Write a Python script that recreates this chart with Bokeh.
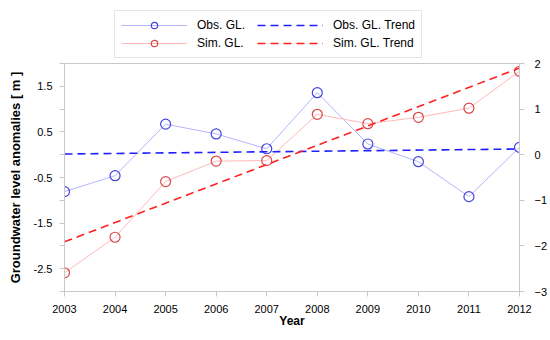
from bokeh.plotting import figure
from bokeh.layouts import column
from bokeh.models import (Range1d, LinearAxis, FixedTicker, Legend, LegendItem)
from bokeh.embed import file_html
from bokeh.resources import INLINE

years = [2003, 2004, 2005, 2006, 2007, 2008, 2009, 2010, 2011, 2012]
obs_gl = [-0.81, -0.46, 0.67, 0.455, 0.13, 1.36, 0.235, -0.154, -0.92, 0.16]
sim_gl = [-2.59, -1.81, -0.59, -0.14, -0.13, 0.886, 0.68, 0.82, 1.02, 1.83]
trend_years = [2003, 2012]
obs_trend = [0.015, 0.125]
sim_trend = [-1.91, 1.90]

left_ticks = [-3, -2.5, -2, -1.5, -1, -0.5, 0, 0.5, 1, 1.5, 2]
left_labels = {-3: "", -2.5: "-2.5", -2: "", -1.5: "-1.5", -1: "", -0.5: "-0.5",
               0: "", 0.5: "0.5", 1: "", 1.5: "1.5", 2: ""}
right_ticks = [-3, -2, -1, 0, 1, 2]

FONT = "Liberation Sans"
AX = "#c8c8c8"
OBS_LINE, OBS_MK, OBS_TR = "#b4b4ff", "#4444dd", "#2020ff"
SIM_LINE, SIM_MK, SIM_TR = "#ffb8b8", "#d84848", "#ff2020"
DASH = "8 5"

# ---------------- main plot ----------------
p = figure(width=550, height=282, output_backend="svg", toolbar_location=None,
           x_range=Range1d(2003, 2012), y_range=Range1d(-3, 2),
           min_border_left=64, min_border_right=31, min_border_top=5,
           min_border_bottom=49)
p.extra_y_ranges = {"right": Range1d(-3, 2)}
p.xgrid.visible = False
p.ygrid.visible = False
p.outline_line_color = AX
p.background_fill_color = "white"
p.border_fill_color = "white"

p.line(years, obs_gl, line_color=OBS_LINE, line_width=1)
p.scatter(years, obs_gl, size=10, fill_color=None, line_color=OBS_MK, line_width=1.2)
p.line(years, sim_gl, line_color=SIM_LINE, line_width=1)
p.scatter(years, sim_gl, size=10, fill_color=None, line_color=SIM_MK, line_width=1.2)
p.line(trend_years, obs_trend, line_color=OBS_TR, line_width=1.6, line_dash=DASH)
p.line(trend_years, sim_trend, line_color=SIM_TR, line_width=1.6, line_dash=DASH)

xa = p.xaxis[0]
xa.ticker = FixedTicker(ticks=years)
xa.axis_label = "Year"
ya = p.yaxis[0]
ya.ticker = FixedTicker(ticks=left_ticks)
ya.major_label_overrides = left_labels
ya.axis_label = "Groundwater level anomalies [ m ]"

ra = LinearAxis(y_range_name="right", ticker=FixedTicker(ticks=right_ticks))
p.add_layout(ra, "right")

for ax in [xa, ya, ra]:
    ax.axis_line_color = AX
    ax.major_tick_line_color = AX
    ax.minor_tick_line_color = None
    ax.major_tick_out = 5
    ax.major_tick_in = 0
    ax.major_label_text_font = FONT
    ax.major_label_text_font_size = "11px"
    ax.major_label_text_color = "black"
    ax.axis_label_text_font = FONT
    ax.axis_label_text_font_size = "13px"
    ax.axis_label_text_font_style = "bold"
    ax.axis_label_text_color = "black"
xa.axis_label_text_font_size = "12px"
xa.major_label_standoff = 8
xa.axis_label_standoff = -2
ya.major_label_standoff = 7
ya.axis_label_standoff = 8
ra.major_label_standoff = 10

# ---------------- legend strip ----------------
lg = figure(width=550, height=58, output_backend="svg", toolbar_location=None,
            x_range=Range1d(0, 1), y_range=Range1d(0, 1),
            x_axis_location=None, y_axis_location=None,
            min_border=0)
lg.xgrid.visible = False
lg.ygrid.visible = False
lg.outline_line_color = None
lg.border_fill_color = "white"

# legend-only proxies, kept outside the visible range of the strip
hx = [-10, -9]
hy = [-10, -9]
l_obs = lg.line(hx, hy, line_color=OBS_LINE, line_width=1)
m_obs = lg.scatter(hx, hy, size=13, fill_color=None, line_color=OBS_MK, line_width=1.2)
l_sim = lg.line(hx, hy, line_color=SIM_LINE, line_width=1)
m_sim = lg.scatter(hx, hy, size=13, fill_color=None, line_color=SIM_MK, line_width=1.2)
t_obs = lg.line(hx, hy, line_color=OBS_TR, line_width=1.6, line_dash=DASH)
t_sim = lg.line(hx, hy, line_color=SIM_TR, line_width=1.6, line_dash=DASH)

legend = Legend(items=[
    LegendItem(label="Obs. GL.", renderers=[l_obs, m_obs]),
    LegendItem(label="Sim. GL.", renderers=[l_sim, m_sim]),
    LegendItem(label="Obs. GL. Trend", renderers=[t_obs]),
    LegendItem(label="Sim. GL. Trend", renderers=[t_sim]),
], ncols=2, orientation="vertical", location=(50, 0))
legend.label_text_font = FONT
legend.label_text_font_size = "12px"
legend.label_text_color = "black"
legend.glyph_width = 66
legend.glyph_height = 16
legend.label_height = 16
legend.label_width = 58
legend.spacing = 2
legend.padding = 6
legend.margin = 0
legend.label_standoff = 10
legend.border_line_color = "#cccccc"
legend.border_line_width = 1
legend.background_fill_color = "white"
lg.add_layout(legend, "center")

layout = column(lg, p, spacing=0)
open("out.html", "w").write(file_html(layout, INLINE))
